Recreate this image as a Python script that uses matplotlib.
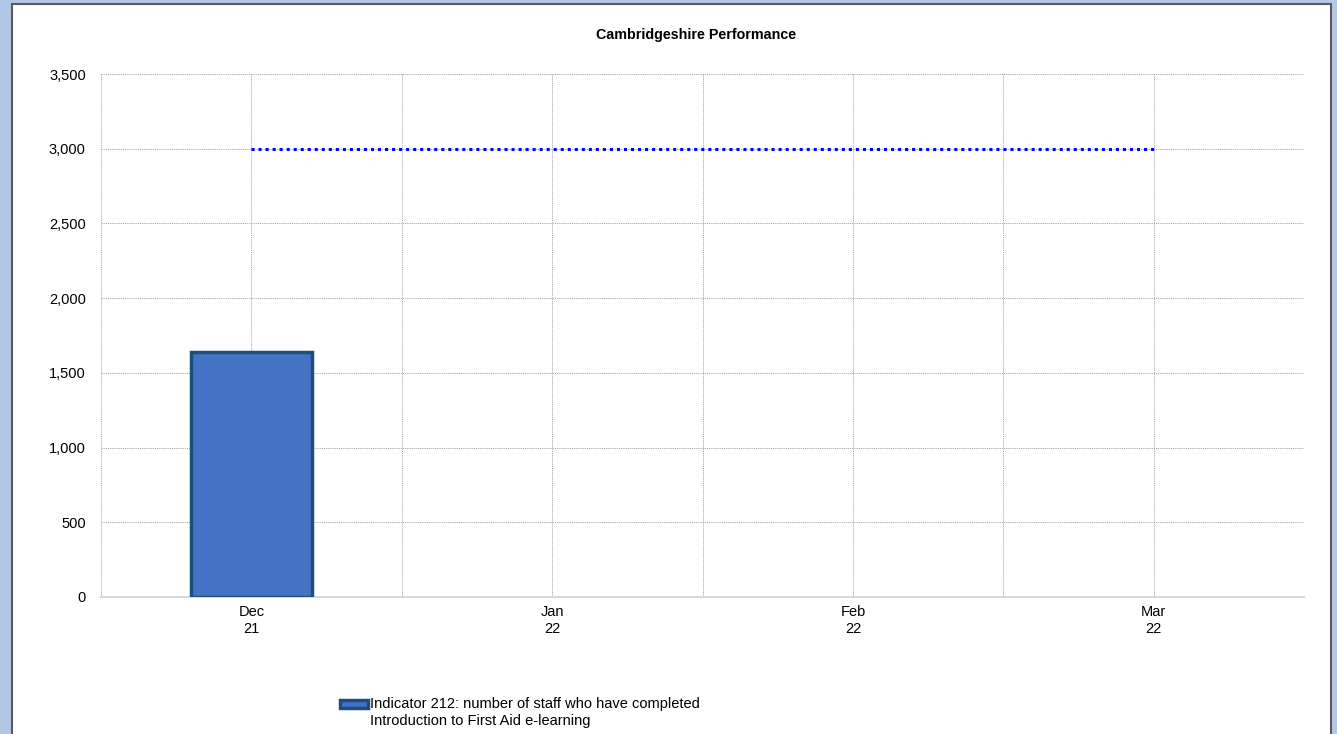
import matplotlib
matplotlib.use("Agg")
import matplotlib.pyplot as plt
import matplotlib.patches as mpatches
from matplotlib.legend_handler import HandlerPatch
from matplotlib.ticker import FuncFormatter, FixedLocator
import numpy as np

plt.rcParams['font.family'] = ['Liberation Sans', 'DejaVu Sans']

categories = ['Dec\n21', 'Jan\n22', 'Feb\n22', 'Mar\n22']
indicator_values = [1640, np.nan, np.nan, np.nan]
target_values = [3000, 3000, 3000, 3000]
series_label = 'Indicator 212: number of staff who have completed\nIntroduction to First Aid e-learning'
title = 'Cambridgeshire Performance'

W, H = 1337, 734
fig = plt.figure(figsize=(W / 100, H / 100), dpi=100)
fig.patch.set_facecolor('#b4c7e7')

panel = mpatches.Rectangle((12 / W, -0.01), (1331 - 12) / W, 1 - 4 / H + 0.01,
                           transform=fig.transFigure, facecolor='white',
                           edgecolor='#5a5a5a', linewidth=1.5, zorder=-10)
fig.patches.append(panel)

ax = fig.add_axes([101 / W, 1 - 597 / H, (1304 - 101) / W, (597 - 74) / H])
ax.set_facecolor('none')
ax.set_zorder(1)

x = np.arange(len(categories))
bars = ax.bar(x, indicator_values, width=0.4, color='#4472c4',
              edgecolor='#1f4e79', linewidth=2.5, zorder=3, label=series_label)
ax.plot(x, target_values, color='#0000ff', linewidth=2.2,
        dashes=(1, 1.3), zorder=4)

ax.set_xlim(-0.5, len(categories) - 0.5)
ax.set_ylim(0, 3500)
ax.set_yticks(np.arange(0, 3501, 500))
ax.yaxis.set_major_formatter(FuncFormatter(lambda v, p: f'{int(v):,}'))
ax.set_xticks(x)
ax.set_xticklabels(categories)
ax.xaxis.set_minor_locator(FixedLocator(np.arange(-0.5, len(categories), 1.0)))

grid_kw = dict(color='#aaaaaa', linestyle=(0, (1.2, 1.0)), linewidth=0.7, zorder=1)
ax.grid(True, which='both', axis='x', **grid_kw)
ax.grid(True, which='major', axis='y', **grid_kw)
ax.set_axisbelow(True)

ax.tick_params(axis='both', which='both', length=0, labelsize=10.5, colors='black')
ax.tick_params(axis='y', pad=11)
ax.tick_params(axis='x', pad=6)

for s in ['left', 'right', 'top']:
    ax.spines[s].set_visible(False)
ax.spines['bottom'].set_color('#d9d9d9')
ax.spines['bottom'].set_linewidth(1.5)

fig.text(696 / W, 1 - 35 / H, title, ha='center', va='center',
         fontsize=10.3, fontweight='bold', zorder=5)


def raised_patch(legend, orig_handle, xdescent, ydescent, width, height, fontsize):
    return mpatches.Rectangle((-xdescent, -ydescent + 0.55 * fontsize + 0.5),
                              width, height)


leg = fig.legend(handles=[bars.patches[0]], labels=[series_label], loc='upper left',
                 bbox_to_anchor=(340 / W, 1 - 697 / H), frameon=False,
                 fontsize=10.5, handlelength=1.9, handleheight=0.45,
                 handletextpad=0.15, borderpad=0, borderaxespad=0,
                 labelspacing=0,
                 handler_map={mpatches.Rectangle: HandlerPatch(patch_func=raised_patch)})
for t in leg.get_texts():
    t.set_linespacing(1.25)
leg.set_zorder(5)

fig.savefig('out.png', dpi=100, facecolor=fig.get_facecolor())
